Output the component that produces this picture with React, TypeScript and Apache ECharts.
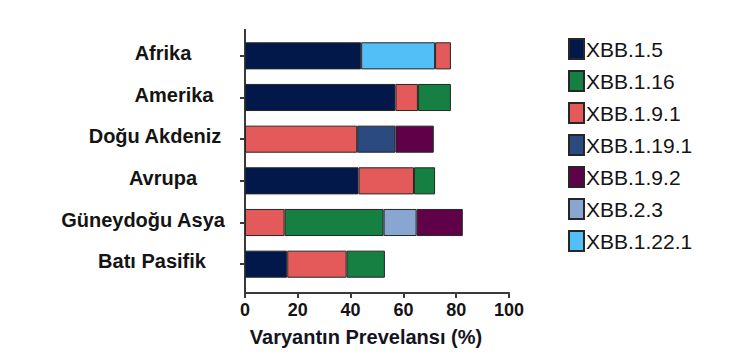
import React, { useEffect, useRef } from "react";
import * as echarts from "echarts";

const regions = ["Afrika", "Amerika", "Doğu Akdeniz", "Avrupa", "Güneydoğu Asya", "Batı Pasifik"];
const xTicks = [0, 20, 40, 60, 80, 100];

const xbb15 = [44, 57, null, 43, null, 16];
const xbb1221 = [28, null, null, null, null, null];
const xbb191 = [6, 8.5, 42.5, 21, 15, 22.5];
const xbb116 = [null, 12.5, null, 8, 37.5, 14.5];
const xbb23 = [null, null, null, null, 12.5, null];
const xbb1191 = [null, null, 14.5, null, null, null];
const xbb192 = [null, null, 14.5, null, 17.5, null];

const legendOrder = ["XBB.1.5", "XBB.1.16", "XBB.1.9.1", "XBB.1.19.1", "XBB.1.9.2", "XBB.2.3", "XBB.1.22.1"];

// stacking order (left to right in the bars)
const seriesDefs: [string, (number | null)[], string][] = [
  ["XBB.1.5", xbb15, "#03184a"],
  ["XBB.1.22.1", xbb1221, "#52bff7"],
  ["XBB.1.9.1", xbb191, "#e45a5a"],
  ["XBB.1.16", xbb116, "#158042"],
  ["XBB.2.3", xbb23, "#89a6d3"],
  ["XBB.1.19.1", xbb1191, "#2b4a7f"],
  ["XBB.1.9.2", xbb192, "#5f0048"],
];

const labelPad: Record<string, number[]> = {
  Amerika: [0, 0, 6, 22],
  "Doğu Akdeniz": [0, 16, 6, 0],
  "Güneydoğu Asya": [0, 40, 6, 0],
  "Batı Pasifik": [0, 22, 6, 0],
};

export default function App() {
  const ref = useRef<HTMLDivElement>(null);
  useEffect(() => {
    if (!ref.current) return;
    const chart = echarts.init(ref.current, null, { renderer: "svg" });
    const rich: Record<string, any> = {};
    regions.forEach((r, i) => {
      rich["r" + i] = {
        fontFamily: "Liberation Sans",
        fontWeight: "bold",
        fontSize: 20,
        color: "#141414",
        padding: labelPad[r] || [0, 0, 6, 0],
      };
    });
    chart.setOption({
      animation: false,
      backgroundColor: "#ffffff",
      grid: { left: 245, right: 233, top: 35, bottom: 68, containLabel: false },
      legend: {
        data: legendOrder,
        orient: "vertical",
        left: 563,
        top: 33,
        itemWidth: 15,
        itemHeight: 20,
        itemGap: 10,
        icon: "rect",
        textStyle: { fontFamily: "Liberation Sans", fontSize: 21, color: "#141414", padding: [0, 0, 0, -3] },
      },
      xAxis: {
        type: "value",
        min: 0,
        max: 100,
        interval: 20,
        offset: 8,
        splitLine: { show: false },
        axisLine: { show: true, lineStyle: { color: "#3a3a3a", width: 2 } },
        axisTick: { show: true, length: 5, lineStyle: { color: "#3a3a3a", width: 2 } },
        axisLabel: {
          margin: 8,
          fontFamily: "Liberation Sans",
          fontWeight: "bold",
          fontSize: 18,
          color: "#141414",
          formatter: (v: number) => (xTicks.includes(v) ? String(v) : ""),
        },
        name: "Varyantın Prevelansı (%)",
        nameLocation: "middle",
        nameGap: 34,
        nameTextStyle: {
          fontFamily: "Liberation Sans",
          fontWeight: "bold",
          fontSize: 20,
          color: "#141420",
          padding: [0, 22, 0, 0],
        },
      },
      yAxis: {
        type: "category",
        data: regions,
        inverse: true,
        axisLine: { show: false },
        axisTick: { show: true, alignWithLabel: true, length: 5, lineStyle: { color: "#3a3a3a", width: 2 } },
        axisLabel: {
          margin: 82,
          align: "center",
          formatter: (v: string) => `{r${regions.indexOf(v)}|${v}}`,
          rich,
        },
      },
      graphic: [
        {
          type: "line",
          shape: { x1: 245, y1: 29, x2: 245, y2: 294 },
          style: { stroke: "#3a3a3a", lineWidth: 2 },
        },
      ],
      series: seriesDefs.map(([name, data, color]) => ({
        name,
        type: "bar",
        stack: "total",
        data,
        barCategoryGap: "35%",
        itemStyle: { color, borderColor: "#262626", borderWidth: 1 },
      })),
    });
    return () => chart.dispose();
  }, []);
  return (
    <div
      ref={ref}
      style={{ position: "fixed", left: 0, top: 0, width: 742, height: 353, background: "#fff" }}
    />
  );
}
